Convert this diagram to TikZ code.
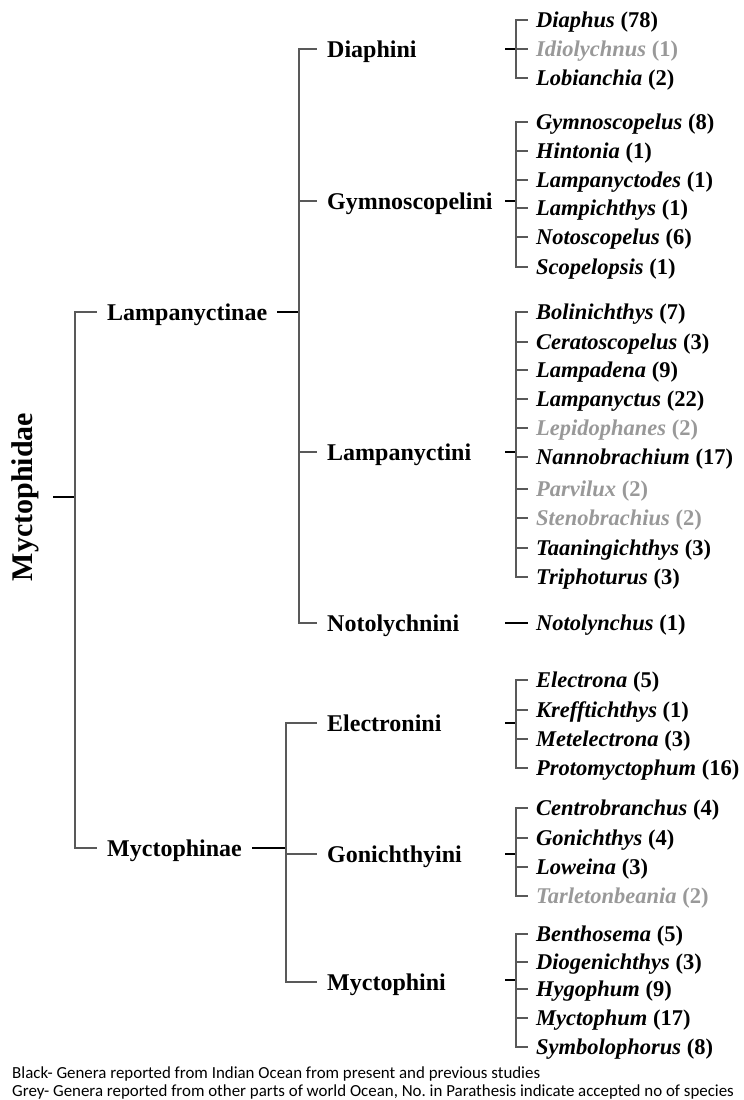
\documentclass[tikz,border=0pt]{standalone}
\usepackage{fontspec}
\setmainfont{Liberation Serif}
\newfontfamily\notefont{Carlito}
\definecolor{absentgrey}{gray}{0.6}
\definecolor{spinegrey}{gray}{0.35}
\tikzset{
  rootlabel/.style={font=\fontsize{30}{30}\selectfont\bfseries, rotate=90, anchor=south, inner xsep=0pt, inner ysep=13pt, text depth=7pt},
  rank/.style={font=\fontsize{24}{24}\selectfont\bfseries, anchor=west, inner xsep=10pt, inner ysep=0pt, text height=16pt, text depth=0pt},
  genus/.style={font=\fontsize{22.5}{22.5}\selectfont\bfseries, anchor=west, inner xsep=8pt, inner ysep=0pt, text height=15pt, text depth=0pt},
  absent/.style={genus, text=absentgrey},
  branch/.style={draw=spinegrey, line width=1.2pt},
  tick/.style={draw=black, line width=1.4pt},
  note/.style={font=\notefont\fontsize{16.9}{16.9}\selectfont, anchor=base west, inner sep=0pt},
}
\begin{document}
\begin{tikzpicture}[x=1pt,y=-1pt]
      \useasboundingbox (0,0) rectangle (744,1100);
      %%%%%%%%%%%%%%%%%%%%%%%%%%%%%%%%%%%%%%%%%%%%%%%
      \node[rootlabel] at (53,497) (myc) {Myctophidae};
      \coordinate (mycJ) at (75,497);
      \node[rank] at (97,312) (lam) {Lampanyctinae};
      \node[rank] at (97,848) (myp) {Myctophinae};
      \draw[tick] (myc.south) -- (mycJ);
      \draw[branch] (mycJ) |- (lam.west)
                    (mycJ) |- (myp.west);
      %%%%%%%%%%%%%%%%%%%%%%%%%%%%%%%%%%%%%%%%%%%%%%%
      \coordinate (lamJ) at (299,312);
      \node[rank] at (317,49)  (dia) {Diaphini};
      \node[rank] at (317,201) (gym) {Gymnoscopelini};
      \node[rank] at (317,452) (lpy) {Lampanyctini};
      \node[rank] at (317,623) (ntl) {Notolychnini};
      \draw[tick] (lam.east) -- (lamJ);
      \draw[branch] (lamJ) |- (dia.west)
                    (lamJ) |- (gym.west)
                    (lamJ) |- (lpy.west)
                    (lamJ) |- (ntl.west);
      %%%%%%%%%%%%%%%%%%%%%%%%%%%%%%%%%%%%%%%%%%%%%%%
      \coordinate (mypJ) at (286,848);
      \node[rank] at (317,723) (ele) {Electronini};
      \node[rank] at (317,854) (gon) {Gonichthyini};
      \node[rank] at (317,982) (mcp) {Myctophini};
      \draw[tick] (myp.east) -- (mypJ);
      \draw[branch] (mypJ) |- (ele.west)
                    (mypJ) |- (gon.west)
                    (mypJ) |- (mcp.west);
      %%%%%%%%%%%%%%%%%%%%%%%%%%%%%%%%%%%%%%%%%%%%%%%
      % Diaphini
      \node[genus]  at (528,20) (dia1) {\textit{Diaphus} (78)};
      \node[absent] at (528,49) (dia2) {\textit{Idiolychnus} (1)};
      \node[genus]  at (528,78) (dia3) {\textit{Lobianchia} (2)};
      \coordinate (diaT) at (505,49);
      \coordinate (diaJ) at (516,49);
      \draw[tick] (diaT) -- (diaJ);
      \draw[branch] (diaJ) |- (dia1.west)
                    (diaJ) |- (dia2.west)
                    (diaJ) |- (dia3.west);
      %%%%%%%%%%%%%%%%%%%%%%%%%%%%%%%%%%%%%%%%%%%%%%%
      % Gymnoscopelini
      \node[genus] at (528,122) (gym1) {\textit{Gymnoscopelus} (8)};
      \node[genus] at (528,151) (gym2) {\textit{Hintonia} (1)};
      \node[genus] at (528,180) (gym3) {\textit{Lampanyctodes} (1)};
      \node[genus] at (528,208) (gym4) {\textit{Lampichthys} (1)};
      \node[genus] at (528,237) (gym5) {\textit{Notoscopelus} (6)};
      \node[genus] at (528,267) (gym6) {\textit{Scopelopsis} (1)};
      \coordinate (gymT) at (505,201);
      \coordinate (gymJ) at (516,201);
      \draw[tick] (gymT) -- (gymJ);
      \draw[branch] (gymJ) |- (gym1.west)
                    (gymJ) |- (gym2.west)
                    (gymJ) |- (gym3.west)
                    (gymJ) |- (gym4.west)
                    (gymJ) |- (gym5.west)
                    (gymJ) |- (gym6.west);
      %%%%%%%%%%%%%%%%%%%%%%%%%%%%%%%%%%%%%%%%%%%%%%%
      % Lampanyctini
      \node[genus]  at (528,312) (lpy1)  {\textit{Bolinichthys} (7)};
      \node[genus]  at (528,342) (lpy2)  {\textit{Ceratoscopelus} (3)};
      \node[genus]  at (528,370) (lpy3)  {\textit{Lampadena} (9)};
      \node[genus]  at (528,399) (lpy4)  {\textit{Lampanyctus} (22)};
      \node[absent] at (528,428) (lpy5)  {\textit{Lepidophanes} (2)};
      \node[genus]  at (528,457) (lpy6)  {\textit{Nannobrachium} (17)};
      \node[absent] at (528,489) (lpy7)  {\textit{Parvilux} (2)};
      \node[absent] at (528,518) (lpy8)  {\textit{Stenobrachius} (2)};
      \node[genus]  at (528,548) (lpy9)  {\textit{Taaningichthys} (3)};
      \node[genus]  at (528,577) (lpy10) {\textit{Triphoturus} (3)};
      \coordinate (lpyT) at (505,452);
      \coordinate (lpyJ) at (516,452);
      \draw[tick] (lpyT) -- (lpyJ);
      \draw[branch] (lpyJ) |- (lpy1.west)
                    (lpyJ) |- (lpy2.west)
                    (lpyJ) |- (lpy3.west)
                    (lpyJ) |- (lpy4.west)
                    (lpyJ) |- (lpy5.west)
                    (lpyJ) |- (lpy6.west)
                    (lpyJ) |- (lpy7.west)
                    (lpyJ) |- (lpy8.west)
                    (lpyJ) |- (lpy9.west)
                    (lpyJ) |- (lpy10.west);
      %%%%%%%%%%%%%%%%%%%%%%%%%%%%%%%%%%%%%%%%%%%%%%%
      % Notolychnini
      \node[genus] at (528,623) (ntl1) {\textit{Notolynchus} (1)};
      \coordinate (ntlT) at (505,623);
      \draw[tick] (ntlT) -- (ntl1.west);
      %%%%%%%%%%%%%%%%%%%%%%%%%%%%%%%%%%%%%%%%%%%%%%%
      % Electronini
      \node[genus] at (528,680) (ele1) {\textit{Electrona} (5)};
      \node[genus] at (528,710) (ele2) {\textit{Krefftichthys} (1)};
      \node[genus] at (528,739) (ele3) {\textit{Metelectrona} (3)};
      \node[genus] at (528,768) (ele4) {\textit{Protomyctophum} (16)};
      \coordinate (eleT) at (505,723);
      \coordinate (eleJ) at (516,723);
      \draw[tick] (eleT) -- (eleJ);
      \draw[branch] (eleJ) |- (ele1.west)
                    (eleJ) |- (ele2.west)
                    (eleJ) |- (ele3.west)
                    (eleJ) |- (ele4.west);
      %%%%%%%%%%%%%%%%%%%%%%%%%%%%%%%%%%%%%%%%%%%%%%%
      % Gonichthyini
      \node[genus]  at (528,808) (gon1) {\textit{Centrobranchus} (4)};
      \node[genus]  at (528,838) (gon2) {\textit{Gonichthys} (4)};
      \node[genus]  at (528,867) (gon3) {\textit{Loweina} (3)};
      \node[absent] at (528,896) (gon4) {\textit{Tarletonbeania} (2)};
      \coordinate (gonT) at (505,854);
      \coordinate (gonJ) at (516,854);
      \draw[tick] (gonT) -- (gonJ);
      \draw[branch] (gonJ) |- (gon1.west)
                    (gonJ) |- (gon2.west)
                    (gonJ) |- (gon3.west)
                    (gonJ) |- (gon4.west);
      %%%%%%%%%%%%%%%%%%%%%%%%%%%%%%%%%%%%%%%%%%%%%%%
      % Myctophini
      \node[genus] at (528,934)  (mcp1) {\textit{Benthosema} (5)};
      \node[genus] at (528,962)  (mcp2) {\textit{Diogenichthys} (3)};
      \node[genus] at (528,989)  (mcp3) {\textit{Hygophum} (9)};
      \node[genus] at (528,1018) (mcp4) {\textit{Myctophum} (17)};
      \node[genus] at (528,1047) (mcp5) {\textit{Symbolophorus} (8)};
      \coordinate (mcpT) at (505,980);
      \coordinate (mcpJ) at (516,980);
      \draw[tick] (mcpT) -- (mcpJ);
      \draw[branch] (mcpJ) |- (mcp1.west)
                    (mcpJ) |- (mcp2.west)
                    (mcpJ) |- (mcp3.west)
                    (mcpJ) |- (mcp4.west)
                    (mcpJ) |- (mcp5.west);
      %%%%%%%%%%%%%%%%%%%%%%%%%%%%%%%%%%%%%%%%%%%%%%%
      \node[note] at (12,1078) (key1) {Black- Genera reported from Indian Ocean from present and previous studies};
      \node[note] at (12,1096) (key2) {Grey- Genera reported from other parts of world Ocean, No.\ in Parathesis indicate accepted no of species};
      %%%%%%%%%%%%%%%%%%%%%%%%%%%%%%%%%%%%%%%%%%%%%%%
\end{tikzpicture}
\end{document}
